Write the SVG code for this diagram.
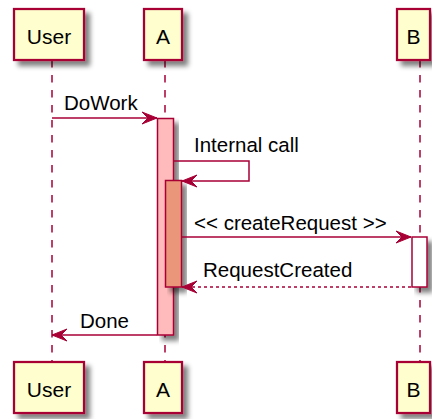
<svg xmlns="http://www.w3.org/2000/svg" width="432" height="419" viewBox="0 0 432 419">
<defs>
<filter id="sh" x="-20%" y="-20%" width="150%" height="150%">
<feGaussianBlur in="SourceAlpha" stdDeviation="2.5"/>
<feOffset dx="5" dy="5" result="b"/>
<feComponentTransfer><feFuncA type="linear" slope="0.5"/></feComponentTransfer>
<feMerge><feMergeNode/><feMergeNode in="SourceGraphic"/></feMerge>
</filter>
<marker id="ah" viewBox="0 0 16 14" refX="15" refY="7" markerWidth="16" markerHeight="14" markerUnits="userSpaceOnUse" orient="auto">
<polygon points="0,1 15,7 0,13 6,7" fill="#A80036" stroke="#A80036" stroke-width="1"/>
</marker>
</defs>
<style>
.pbox{fill:#FEFECE;stroke:#A80036;stroke-width:2.25;}
.ptxt{font-family:"Liberation Sans",Arial,sans-serif;font-size:21px;fill:#000;text-anchor:middle;}
.life{stroke:#A80036;stroke-width:1.5;stroke-dasharray:7.5,7.5;fill:none;}
.msg{stroke:#A80036;stroke-width:1.5;fill:none;}
.ret{stroke:#A80036;stroke-width:1.5;fill:none;stroke-dasharray:3,3;}
.mtxt{font-family:"Liberation Sans",Arial,sans-serif;font-size:20.5px;fill:#000;}
.act1{fill:#FFBBBB;stroke:#A80036;stroke-width:1.5;}
.act2{fill:#E9967A;stroke:#A80036;stroke-width:1.5;}
.actb{fill:#FFFFFF;stroke:#A80036;stroke-width:1.5;}
</style>
<g id="lifelines">
<line class="life" x1="52" y1="60" x2="52" y2="362"/>
<line class="life" x1="165" y1="60" x2="165" y2="362"/>
<line class="life" x1="420" y1="60" x2="420" y2="362"/>
</g>
<g id="User">
<rect class="pbox" x="14" y="9" width="70" height="51" filter="url(#sh)"/>
<text class="ptxt" x="49" y="43.5">User</text>
<rect class="pbox" x="14" y="362" width="70" height="51" filter="url(#sh)"/>
<text class="ptxt" x="49" y="396.5">User</text>
</g>
<g id="A">
<rect class="pbox" x="144" y="9" width="38" height="51" filter="url(#sh)"/>
<text class="ptxt" x="163" y="43.5">A</text>
<rect class="pbox" x="144" y="362" width="38" height="51" filter="url(#sh)"/>
<text class="ptxt" x="163" y="396.5">A</text>
<rect class="act1" x="157.5" y="118.5" width="16" height="216.5" filter="url(#sh)"/>
<rect class="act2" x="165.5" y="180.5" width="16" height="106.5" filter="url(#sh)"/>
</g>
<g id="B">
<rect class="pbox" x="397" y="9" width="33" height="51" filter="url(#sh)"/>
<text class="ptxt" x="413.5" y="43.5">B</text>
<rect class="pbox" x="397" y="362" width="33" height="51" filter="url(#sh)"/>
<text class="ptxt" x="413.5" y="396.5">B</text>
<rect class="actb" x="412" y="237" width="15" height="50" filter="url(#sh)"/>
</g>
<g id="connectors">
<line class="msg" x1="52" y1="118" x2="157" y2="118" marker-end="url(#ah)"/>
<text class="mtxt" x="64" y="110">DoWork</text>
<polyline class="msg" points="174,161 249,161 249,181 182,181" marker-end="url(#ah)"/>
<text class="mtxt" x="194" y="152">Internal call</text>
<line class="msg" x1="182" y1="237" x2="411" y2="237" marker-end="url(#ah)"/>
<text class="mtxt" x="194" y="230">&lt;&lt; createRequest &gt;&gt;</text>
<line class="ret" x1="411" y1="287" x2="182" y2="287" marker-end="url(#ah)"/>
<text class="mtxt" x="203" y="277">RequestCreated</text>
<line class="msg" x1="157" y1="335" x2="52" y2="335" marker-end="url(#ah)"/>
<text class="mtxt" x="80" y="328">Done</text>
</g>
</svg>
